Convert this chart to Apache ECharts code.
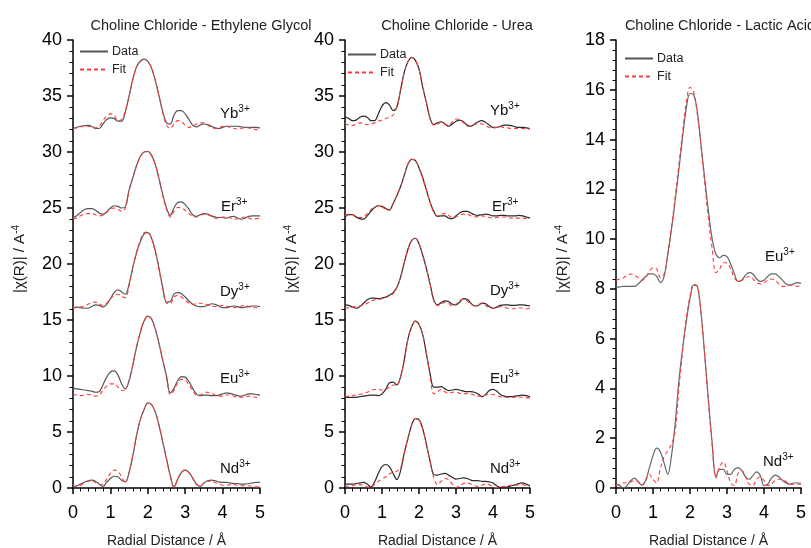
<!DOCTYPE html>
<html><head><meta charset="utf-8">
<script src="https://cdn.jsdelivr.net/npm/echarts@6/dist/echarts.min.js"></script>
<style>html,body{margin:0;padding:0;background:#fff}#c{width:811px;height:548px}</style>
</head><body><div id="c"></div>
<script>
const R = [0,0.1,0.2,0.3,0.4,0.5,0.6,0.7,0.8,0.9,1.0,1.1,1.2,1.3,1.4,1.5,1.6,1.7,1.8,1.9,2.0,2.1,2.2,2.3,2.4,2.5,2.6,2.7,2.8,2.9,3.0,3.1,3.2,3.3,3.4,3.5,3.6,3.7,3.8,3.9,4.0,4.1,4.2,4.3,4.4,4.5,4.6,4.7,4.8,4.9,5.0];

const panelTitles = ['Choline Chloride - Ethylene Glycol','Choline Chloride - Urea','Choline Chloride - Lactic Acid'];
const xTicks = [0,1,2,3,4,5];
const yTicksA = [0,5,10,15,20,25,30,35,40];
const yTicksB = [0,2,4,6,8,10,12,14,16,18];

// Panel 1: Choline Chloride - Ethylene Glycol
const eg_Yb_data = [32.1,32.2,32.3,32.35,32.38,32.3,32.1,32.1,32.5,32.9, 33.05,33.0,32.75,32.75,33.6,35.0,36.5,37.6,38.1,38.3, 38.1,37.5,36.4,35.0,33.6,32.6,32.5,33.3,33.7,33.7, 33.4,32.9,32.4,32.25,32.4,32.5,32.45,32.3,32.15,32.1, 32.2,32.3,32.3,32.3,32.3,32.25,32.2,32.2,32.2,32.2, 32.15];
const eg_Yb_fit = [32.1,32.15,32.25,32.3,32.3,32.2,32.15,32.3,32.8,33.2, 33.4,33.3,32.8,32.9,33.7,35.0,36.5,37.6,38.1,38.3, 38.1,37.5,36.4,35.0,33.5,32.4,32.1,32.5,32.8,32.7, 32.4,32.2,32.3,32.5,32.6,32.6,32.4,32.2,32.1,32.15, 32.3,32.3,32.2,32.1,32.05,32.1,32.2,32.15,32.05,32.0, 32.05];
const eg_Er_data = [24.1,24.3,24.6,24.85,24.95,24.95,24.8,24.55,24.45,24.65, 25.0,25.2,25.15,25.0,25.1,26.6,27.7,28.8,29.6,30.0, 30.05,29.7,28.9,27.6,26.2,25.0,24.35,25.0,25.5,25.55, 25.3,24.9,24.4,24.25,24.4,24.5,24.45,24.3,24.2,24.15, 24.15,24.1,24.2,24.25,24.1,24.0,24.1,24.25,24.3,24.3, 24.3];
const eg_Er_fit = [24.05,24.1,24.3,24.45,24.5,24.5,24.4,24.3,24.35,24.6, 24.9,25.0,24.9,24.7,25.0,26.6,27.7,28.8,29.6,30.0, 30.05,29.7,28.9,27.6,26.1,24.9,24.2,24.7,25.05,25.0, 24.8,24.5,24.25,24.2,24.35,24.45,24.4,24.25,24.1,24.1, 24.2,24.2,24.1,24.0,24.05,24.15,24.2,24.1,24.0,24.05, 24.1];
const eg_Dy_data = [16.1,16.15,16.1,16.05,16.05,16.2,16.35,16.3,16.15,16.4, 16.9,17.45,17.7,17.5,17.3,18.2,19.7,21.0,22.0,22.7, 22.8,22.3,21.2,19.6,17.9,16.6,16.65,17.3,17.45,17.35, 17.05,16.7,16.4,16.25,16.2,16.2,16.3,16.45,16.4,16.25, 16.1,16.1,16.2,16.25,16.2,16.1,16.15,16.2,16.25,16.25, 16.2];
const eg_Dy_fit = [16.15,16.1,16.15,16.25,16.4,16.55,16.6,16.45,16.3,16.5, 16.9,17.2,17.3,17.1,17.0,18.1,19.7,21.1,22.1,22.8, 22.85,22.3,21.1,19.5,17.8,16.5,16.45,17.05,17.2,17.05, 16.75,16.5,16.4,16.45,16.5,16.45,16.35,16.25,16.2,16.25, 16.3,16.25,16.15,16.1,16.15,16.25,16.3,16.2,16.1,16.1, 16.15];
const eg_Eu_data = [8.9,8.85,8.8,8.75,8.7,8.65,8.55,8.6,9.2,9.9, 10.35,10.45,10.1,9.3,8.85,9.6,11.0,12.6,13.9,14.9, 15.35,15.1,14.2,12.9,11.4,10.0,8.5,8.9,9.6,9.95, 9.9,9.5,8.9,8.4,8.25,8.3,8.3,8.25,8.25,8.3, 8.4,8.5,8.45,8.35,8.25,8.2,8.3,8.4,8.4,8.35, 8.3];
const eg_Eu_fit = [8.35,8.3,8.25,8.3,8.35,8.3,8.2,8.3,8.7,9.1, 9.3,9.3,9.0,8.7,8.8,9.6,11.0,12.6,13.9,14.9, 15.35,15.1,14.2,12.9,11.4,9.9,8.35,8.7,9.4,9.7, 9.65,9.2,8.7,8.3,8.3,8.5,8.55,8.45,8.3,8.2, 8.2,8.3,8.3,8.2,8.1,8.1,8.15,8.2,8.15,8.1, 8.05];
const eg_Nd_data = [0.1,0.2,0.35,0.5,0.65,0.7,0.6,0.35,0.15,0.5, 0.85,1.05,1.0,0.7,0.55,1.4,2.9,4.7,6.1,7.0, 7.6,7.45,6.8,5.6,4.1,2.6,1.1,0.1,0.8,1.4, 1.6,1.4,0.9,0.35,0.15,0.45,0.65,0.7,0.65,0.55, 0.5,0.5,0.45,0.4,0.4,0.35,0.35,0.4,0.45,0.5, 0.5];
const eg_Nd_fit = [0.15,0.15,0.25,0.45,0.6,0.65,0.5,0.3,0.35,0.8, 1.3,1.6,1.5,1.0,0.5,1.4,2.9,4.7,6.1,7.0, 7.6,7.45,6.8,5.6,4.1,2.6,1.1,0.05,0.8,1.4, 1.6,1.35,0.85,0.3,0.15,0.45,0.6,0.6,0.5,0.35, 0.25,0.25,0.3,0.3,0.25,0.2,0.2,0.2,0.15,0.1, 0.1];

// Panel 2: Choline Chloride - Urea
const u_Yb_data = [33.15,33.0,32.8,32.85,33.1,33.2,33.1,32.8,32.8,33.4, 34.1,34.4,34.2,33.7,34.0,35.5,37.1,38.05,38.45,38.2, 37.4,35.8,34.4,33.0,32.45,32.6,32.7,32.5,32.3,32.5, 32.75,32.85,32.7,32.4,32.3,32.5,32.7,32.8,32.65,32.4, 32.2,32.2,32.3,32.4,32.4,32.35,32.25,32.2,32.2,32.15, 32.1];
const u_Yb_fit = [32.55,32.4,32.35,32.5,32.6,32.55,32.45,32.5,32.6,32.75, 32.85,33.0,33.1,33.3,34.0,35.5,37.1,38.05,38.45,38.2, 37.4,35.8,34.4,33.0,32.4,32.5,32.65,32.5,32.4,32.7, 32.95,32.9,32.6,32.35,32.3,32.45,32.55,32.5,32.35,32.2, 32.15,32.2,32.25,32.2,32.15,32.1,32.1,32.1,32.1,32.05, 32.05];
const u_Er_data = [24.2,24.4,24.4,24.2,24.05,24.0,24.3,24.7,25.05,25.2, 25.15,24.95,24.8,25.4,26.1,26.9,27.9,28.9,29.35,29.25, 28.6,27.7,26.6,25.5,24.7,24.25,24.3,24.3,24.1,24.05, 24.3,24.55,24.7,24.7,24.55,24.4,24.35,24.4,24.45,24.4, 24.3,24.3,24.35,24.35,24.3,24.3,24.3,24.35,24.3,24.2, 24.1];
const u_Er_fit = [24.3,24.45,24.4,24.25,24.15,24.2,24.5,24.85,25.1,25.2, 25.1,24.9,24.85,25.4,26.1,26.9,27.9,28.9,29.35,29.25, 28.6,27.7,26.6,25.5,24.6,24.3,24.45,24.5,24.35,24.15, 24.2,24.35,24.45,24.45,24.3,24.2,24.25,24.3,24.25,24.15, 24.1,24.15,24.2,24.2,24.15,24.1,24.1,24.1,24.1,24.05, 24.05];
const u_Dy_data = [16.35,16.3,16.15,16.05,16.2,16.5,16.8,16.95,16.95,16.9, 16.95,17.05,17.2,17.45,17.9,18.8,20.1,21.3,22.1,22.3, 21.8,20.8,19.6,18.2,16.8,16.35,16.55,16.7,16.65,16.4, 16.35,16.6,16.9,16.85,16.5,16.25,16.3,16.5,16.45,16.2, 16.05,16.15,16.3,16.35,16.35,16.3,16.3,16.35,16.35,16.3, 16.25];
const u_Dy_fit = [16.05,16.1,16.15,16.2,16.25,16.35,16.5,16.7,16.8,16.85, 16.9,17.0,17.15,17.35,17.9,18.8,20.1,21.3,22.1,22.3, 21.8,20.8,19.6,18.2,16.7,16.3,16.4,16.6,16.5,16.25, 16.4,16.75,16.85,16.7,16.4,16.3,16.4,16.45,16.3,16.1, 16.05,16.1,16.2,16.15,16.05,16.0,16.05,16.1,16.05,16.0, 16.05];
const u_Eu_data = [8.1,8.1,8.1,8.1,8.15,8.2,8.25,8.3,8.3,8.25, 8.4,8.8,9.4,9.45,9.2,9.9,11.4,13.3,14.4,14.9, 14.6,13.7,12.0,10.2,9.0,9.0,9.05,8.85,8.7,8.75, 8.8,8.75,8.65,8.6,8.6,8.55,8.4,8.15,8.35,8.7, 8.8,8.65,8.35,8.2,8.15,8.15,8.2,8.25,8.3,8.25, 8.15];
const u_Eu_fit = [8.15,8.2,8.25,8.3,8.35,8.45,8.55,8.7,8.8,8.8, 8.75,8.8,9.0,9.2,9.2,9.9,11.4,13.3,14.4,14.9, 14.6,13.7,12.0,10.0,8.4,8.6,8.8,8.6,8.45,8.55, 8.55,8.45,8.4,8.45,8.4,8.3,8.2,8.2,8.3,8.35, 8.35,8.25,8.15,8.1,8.1,8.1,8.1,8.1,8.1,8.05, 8.05];
const u_Nd_data = [0.35,0.35,0.35,0.4,0.45,0.5,0.35,0.1,0.55,1.3, 1.9,2.1,1.9,1.3,0.75,1.5,3.1,4.4,5.6,6.2, 6.1,5.3,3.9,2.4,1.2,1.15,1.25,1.3,1.15,0.95, 0.8,0.85,0.9,0.85,0.7,0.65,0.65,0.6,0.6,0.55, 0.45,0.2,0.05,0.05,0.1,0.2,0.3,0.4,0.45,0.35, 0.2];
const u_Nd_fit = [0.2,0.15,0.2,0.3,0.3,0.25,0.1,0.05,0.35,0.6, 0.8,1.0,1.25,1.4,1.5,1.8,3.1,4.4,5.6,6.2, 6.1,5.3,3.9,2.3,0.9,0.3,0.6,0.85,0.75,0.35, 0.05,0.2,0.4,0.45,0.35,0.2,0.15,0.25,0.35,0.3, 0.1,0.05,0.1,0.15,0.2,0.25,0.25,0.3,0.3,0.2, 0.15];

// Panel 3: Choline Chloride - Lactic Acid
const la_Eu_data = [8.05,8.08,8.1,8.1,8.1,8.1,8.2,8.35,8.5,8.6, 8.6,8.5,8.25,8.5,9.4,10.4,11.55,12.8,14.1,15.25, 15.85,15.8,15.1,13.75,12.4,11.1,10.0,9.4,9.25,9.35, 9.3,9.0,8.6,8.3,8.35,8.55,8.65,8.6,8.4,8.3, 8.35,8.5,8.6,8.6,8.5,8.35,8.2,8.15,8.2,8.25, 8.22];
const la_Eu_fit = [8.35,8.4,8.45,8.55,8.6,8.55,8.45,8.35,8.45,8.7, 8.85,8.8,8.45,8.6,9.4,10.5,11.7,13.0,14.3,15.5, 16.1,15.9,15.0,13.7,12.2,10.8,9.6,8.65,8.8,9.05, 9.05,8.8,8.45,8.3,8.35,8.45,8.5,8.4,8.25,8.2, 8.25,8.35,8.4,8.35,8.2,8.1,8.1,8.15,8.15,8.1, 8.1];
const la_Nd_data = [0.15,0.1,0.0,0.1,0.3,0.4,0.25,0.12,0.3,0.8, 1.3,1.6,1.45,1.0,0.55,1.3,2.6,4.3,5.6,6.7, 7.6,8.15,8.1,7.0,5.3,3.5,1.8,0.45,0.75,0.75, 0.55,0.55,0.75,0.82,0.7,0.45,0.35,0.5,0.65,0.5, 0.1,0.15,0.4,0.52,0.45,0.3,0.2,0.15,0.2,0.2, 0.2];
const la_Nd_fit = [0.1,0.15,0.2,0.22,0.25,0.3,0.25,0.1,0.3,0.55, 0.35,0.2,0.8,1.25,1.5,1.75,2.3,4.0,5.5,6.8, 7.7,8.2,8.1,7.0,5.3,3.4,1.7,0.4,0.85,1.05, 0.7,0.2,0.1,0.6,0.7,0.45,0.15,0.1,0.35,0.45, 0.3,0.1,0.15,0.3,0.35,0.35,0.25,0.15,0.15,0.15, 0.15];

const ionNames = [['Yb','Er','Dy','Eu','Nd'],['Yb','Er','Dy','Eu','Nd'],['Eu','Nd']];
const panelData = [
  [[eg_Yb_data,eg_Yb_fit],[eg_Er_data,eg_Er_fit],[eg_Dy_data,eg_Dy_fit],[eg_Eu_data,eg_Eu_fit],[eg_Nd_data,eg_Nd_fit]],
  [[u_Yb_data,u_Yb_fit],[u_Er_data,u_Er_fit],[u_Dy_data,u_Dy_fit],[u_Eu_data,u_Eu_fit],[u_Nd_data,u_Nd_fit]],
  [[la_Eu_data,la_Eu_fit],[la_Nd_data,la_Nd_fit]]
];

const FONT = 'Liberation Sans, Arial, sans-serif';
const gridPos = [{left:73,width:187},{left:345,width:185},{left:616,width:185}];
const dataColors = ['#555555','#2a2a2a','#666666'];
const fitColor = '#ff3b3b';
const pairs = ys => R.map((x,i)=>[x, ys[i]]);

const grids = gridPos.map(g=>({left:g.left,width:g.width,top:40,height:448,containLabel:false,outerBoundsMode:'none'}));
const axisCommon = {
  axisLine:{show:true,onZero:false,lineStyle:{color:'#000',width:1.5}},
  axisTick:{show:true,length:6,lineStyle:{color:'#000',width:1.5}},
  minorTick:{show:true,splitNumber:5,length:3.5,lineStyle:{color:'#000',width:1}},
  splitLine:{show:false},
  axisLabel:{color:'#000',fontSize:18,fontFamily:FONT}
};
const xAxes = gridPos.map((g,i)=>Object.assign({}, axisCommon, {
  type:'value', gridIndex:i, min:xTicks[0], max:xTicks[xTicks.length-1], interval:1,
  axisLabel:Object.assign({}, axisCommon.axisLabel, {margin:16}),
  name:'Radial Distance / Å', nameLocation:'middle', nameGap:46,
  nameTextStyle:{fontSize:14, color:'#222', fontFamily:FONT}
}));
const yAxes = gridPos.map((g,i)=>{
  const t = i<2 ? yTicksA : yTicksB;
  return Object.assign({}, axisCommon, {
    type:'value', gridIndex:i, min:t[0], max:t[t.length-1], interval:t[1]-t[0],
    axisLabel:Object.assign({}, axisCommon.axisLabel, {margin:11}),
    name:'|χ(R)| / A{s|-4}', nameLocation:'middle', nameGap:44,
    nameTextStyle:{fontSize:15, color:'#222', fontFamily:FONT, padding:[0,0,0,10],
      rich:{s:{fontSize:10, fontFamily:FONT, color:'#222', verticalAlign:'top', padding:[0,0,8,0]}}}
  });
});

const series = [];
panelData.forEach((pd,p)=>{
  pd.forEach(([d,f])=>{
    series.push({name:'Data', type:'line', xAxisIndex:p, yAxisIndex:p, data:pairs(d), smooth:0.35,
      symbol:'none', showSymbol:false, lineStyle:{color:dataColors[p], width:1.2}, itemStyle:{color:dataColors[p]}, z:2});
  });
  pd.forEach(([d,f])=>{
    series.push({name:'Fit', type:'line', xAxisIndex:p, yAxisIndex:p, data:pairs(f), smooth:0.35,
      symbol:'none', showSymbol:false, lineStyle:{color:fitColor, width:1.1, type:[4,3]}, itemStyle:{color:fitColor}, z:3});
  });
});

const legendPos = [{left:79,top:45},{left:347,top:48},{left:624,top:52}];
const legends = legendPos.map(lp=>({left:lp.left, top:lp.top, orient:'vertical', padding:0,
  itemWidth:28, itemHeight:10, itemGap:5, data:['Data','Fit'], selectedMode:false,
  itemStyle:{opacity:0, borderWidth:0},
  textStyle:{fontSize:12.5, color:'#222', fontFamily:FONT, padding:[0,0,0,-1]}}));

const titleCenters = [196,452,715];
const titles = panelTitles.map((t,i)=>({text:t, left:titleCenters[i], top:13, textAlign:'center',
  textStyle:{fontSize:14.5, fontWeight:'normal', color:'#222', fontFamily:FONT}}));

// ion annotation anchor positions (pixels)
const labelPos = [
  [[220,104],[221,197],[220,282],[220,369],[220,459]],
  [[490,101],[492,197],[490,281],[490,369],[490,459]],
  [[765,247],[763,452]]
];
const graphics = [];
ionNames.forEach((names,p)=>names.forEach((n,k)=>{
  graphics.push({type:'text', left:labelPos[p][k][0], top:labelPos[p][k][1], z:10,
    style:{text:'{a|'+n+'}{b|3+}', fill:'#111',
      rich:{a:{fontSize:15, fontFamily:FONT, fill:'#111', verticalAlign:'bottom', lineHeight:20},
            b:{fontSize:10, fontFamily:FONT, fill:'#111', verticalAlign:'bottom', lineHeight:10, padding:[0,0,7,0]}}}});
}));

const chart = echarts.init(document.getElementById('c'), null, {renderer:'canvas'});
chart.setOption({
  animation:false, backgroundColor:'#fff',
  title:titles, grid:grids, xAxis:xAxes, yAxis:yAxes, legend:legends, series:series, graphic:graphics
});
</script></body></html>
